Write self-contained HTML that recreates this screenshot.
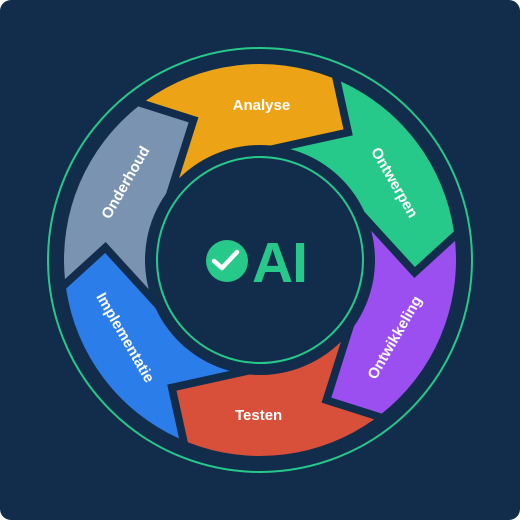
<!DOCTYPE html>
<html><head><meta charset="utf-8"><style>
html,body{margin:0;padding:0;background:#fff;}
svg{display:block;}
text{font-family:"Liberation Sans","DejaVu Sans",sans-serif;font-weight:bold;fill:#fff;}
</style></head><body>
<svg id="s" width="520" height="520" viewBox="0 0 520 520" xmlns="http://www.w3.org/2000/svg">
<rect x="0" y="0" width="520" height="520" rx="11" fill="#122c4b"/>
<circle cx="260" cy="260" r="212" fill="none" stroke="#26c98a" stroke-width="2"/>
<g id="segs"></g>
<circle cx="260" cy="260" r="103" fill="none" stroke="#26c98a" stroke-width="2"/>
<circle cx="227" cy="261" r="21" fill="#26c98a"/>
<path d="M214 261 L222 268 L237 252" fill="none" stroke="#fff" stroke-width="4.5" stroke-linecap="round" stroke-linejoin="round"/>
<text x="252" y="282" font-size="57" style="fill:#26c98a" letter-spacing="-1">AI</text>
<g font-size="15" text-anchor="middle">
<text transform="translate(261.4,105) rotate(0)" dy="5">Analyse</text>
<text transform="translate(394.6,182.5) rotate(60)" dy="5">Ontwerpen</text>
<text transform="translate(394.6,337.5) rotate(-60)" dy="5">Ontwikkeling</text>
<text transform="translate(258.6,415) rotate(0)" dy="5">Testen</text>
<text transform="translate(125.4,337.5) rotate(60)" dy="5">Implementatie</text>
<text transform="translate(125.4,182.5) rotate(-60)" dy="5">Onderhoud</text>
</g>
</svg>
<script>
(function(){
var cx=260,cy=260,Ro=196,Ri=115,Rm=155,gap=11;
var cols=["#eca416","#26c98a","#9b4ff0","#d9503a","#2b7de9","#7a93b0"];
function P(r,a){return [cx+r*Math.cos(a),cy+r*Math.sin(a)];}
function hit(p,u,R){ // p + s u, |.-c|=R, s>0 smallest positive
 var dx=p[0]-cx,dy=p[1]-cy;var b=dx*u[0]+dy*u[1];var c=dx*dx+dy*dy-R*R;
 var s=-b+Math.sqrt(b*b-c);var s2=-b-Math.sqrt(b*b-c);if(s2>0)s=Math.min(s,s2);
 return [p[0]+s*u[0],p[1]+s*u[1]];}
function chev(theta,shift){
 var t=[-Math.sin(theta),Math.cos(theta)],n=[Math.cos(theta),Math.sin(theta)];
 var T=P(Rm,theta);T=[T[0]+shift*t[0],T[1]+shift*t[1]];
 var k=Math.SQRT1_2;
 var uo=[(-t[0]+n[0])*k,(-t[1]+n[1])*k],ui=[(-t[0]-n[0])*k,(-t[1]-n[1])*k];
 return {T:T,o:hit(T,uo,Ro),i:hit(T,ui,Ri)};}
var g=document.getElementById("segs"),html="";
for(var k=0;k<6;k++){
 var a0=(2.6-120+60*k)*Math.PI/180,a1=(2.6-60+60*k)*Math.PI/180;
 var tail=chev(a0,gap),head=chev(a1,0);
 function f(p){return p[0].toFixed(2)+" "+p[1].toFixed(2);}
 var d="M"+f(tail.o)+" A"+Ro+" "+Ro+" 0 0 1 "+f(head.o)+" L"+f(head.T)+" L"+f(head.i)+
  " A"+Ri+" "+Ri+" 0 0 0 "+f(tail.i)+" L"+f(tail.T)+" Z";
 html+='<path d="'+d+'" fill="'+cols[k]+'"/>';
}
g.innerHTML=html;
})();
</script>
</body></html>
